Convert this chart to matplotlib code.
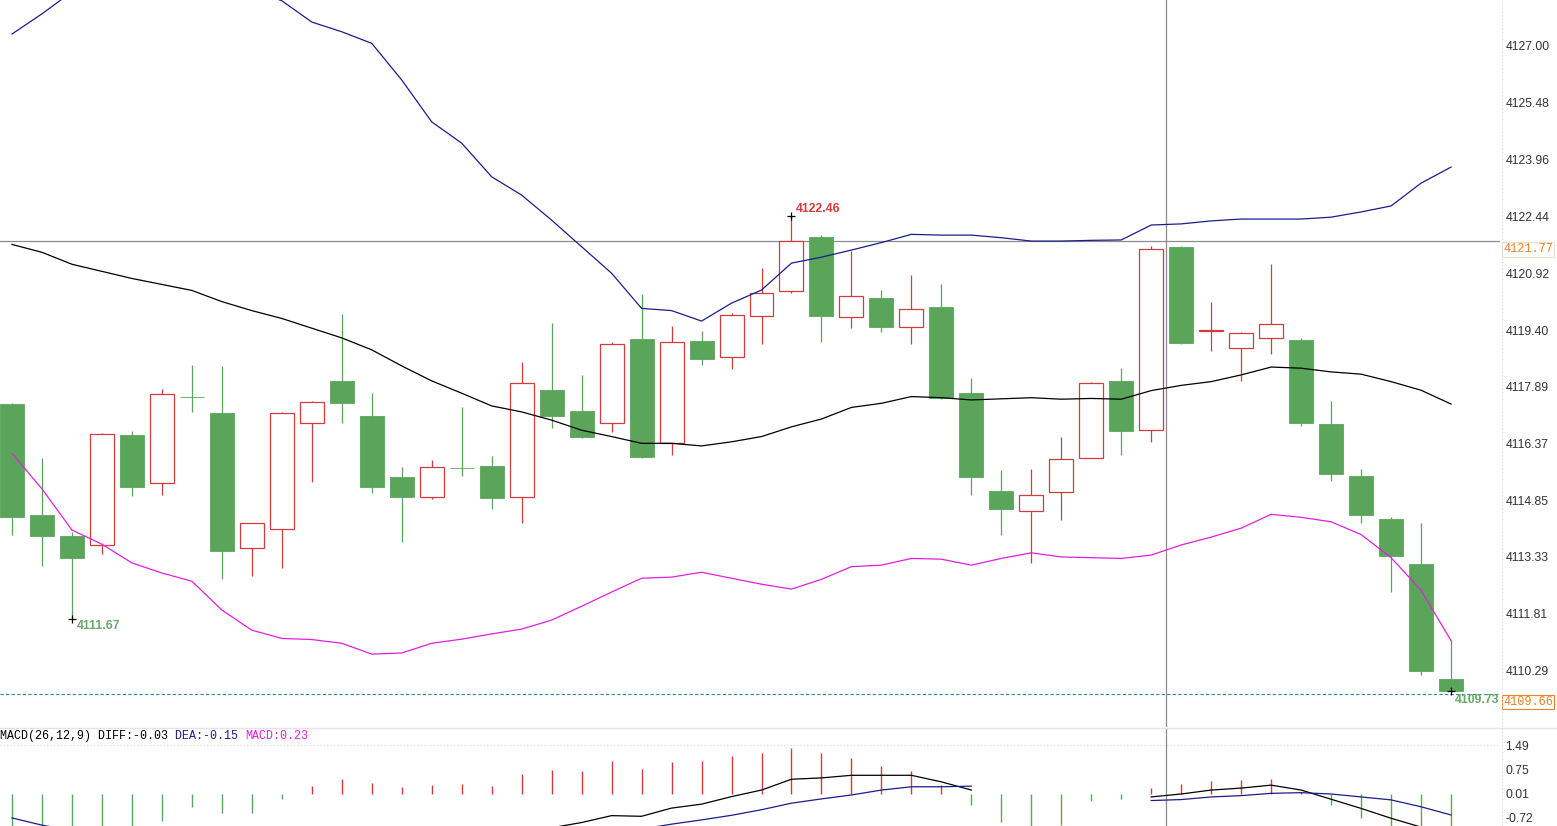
import matplotlib.pyplot as plt
import matplotlib.transforms as mtransforms
from matplotlib.lines import Line2D

nan = float("nan")

# ---- candle data (index = bar number) ----
opens = [4117.42, 4114.45, 4113.89, 4113.64, 4116.59, 4115.30, 4117.62, 4117.18, 4113.56, 4114.09,
         4116.90, 4118.04, 4117.10, 4115.47, 4114.94, 4115.72, 4115.76, 4114.94, 4117.79, 4117.23,
         4116.90, 4119.16, 4116.37, 4119.11, 4118.69, 4119.77, 4120.44, 4121.88, 4119.76, 4120.25,
         4119.47, 4120.01, 4117.71, 4115.09, 4114.56, 4115.06, 4115.99, 4118.04, 4116.72, 4121.63,
         4119.38, 4118.91, 4119.20, 4119.13, 4116.88, 4115.49, 4114.34, 4113.14, 4110.06]
closes = [4114.39, 4113.90, 4113.31, 4116.62, 4115.21, 4117.68, 4117.60, 4113.49, 4114.23, 4117.17,
          4117.47, 4117.45, 4115.21, 4114.94, 4115.73, 4115.70, 4114.91, 4117.97, 4117.11, 4116.53,
          4119.04, 4116.01, 4119.07, 4118.63, 4119.80, 4120.38, 4121.79, 4119.78, 4120.32, 4119.49,
          4119.95, 4117.57, 4115.46, 4114.60, 4115.00, 4115.94, 4117.97, 4116.71, 4121.56, 4119.06,
          4119.40, 4119.31, 4119.55, 4116.90, 4115.55, 4114.45, 4113.36, 4110.28, 4109.73]
highs = [4117.45, 4115.99, 4114.00, 4116.65, 4116.71, 4117.82, 4118.46, 4118.44, 4114.25, 4117.20,
         4117.50, 4119.83, 4117.71, 4115.74, 4115.92, 4117.34, 4116.02, 4118.55, 4119.58, 4118.20,
         4119.09, 4120.36, 4119.51, 4119.38, 4119.85, 4121.06, 4122.46, 4121.94, 4121.52, 4120.47,
         4120.87, 4120.63, 4118.13, 4115.65, 4115.67, 4116.53, 4118.01, 4118.38, 4121.65, 4121.66,
         4120.16, 4119.35, 4121.17, 4119.18, 4117.50, 4115.68, 4114.40, 4114.24, 4111.10]
lows = [4113.93, 4113.10, 4111.67, 4113.40, 4114.97, 4115.00, 4117.21, 4112.73, 4112.83, 4113.04,
        4115.33, 4116.90, 4115.03, 4113.74, 4114.87, 4115.50, 4114.60, 4114.23, 4116.77, 4116.50,
        4116.68, 4115.99, 4116.07, 4118.46, 4118.35, 4119.02, 4120.40, 4119.09, 4119.45, 4119.35,
        4119.04, 4117.55, 4115.00, 4113.91, 4113.18, 4114.33, 4115.97, 4116.07, 4116.41, 4119.04,
        4118.85, 4118.04, 4118.75, 4116.83, 4115.37, 4114.25, 4112.40, 4110.17, 4109.73]

# ---- bands ----
upper = [4127.32, 4127.86, 4128.45, 4128.60, 4128.70, 4128.70, 4128.65, 4128.60, 4128.50, 4128.21,
         4127.64, 4127.38, 4127.07, 4126.09, 4124.97, 4124.40, 4123.50, 4123.01, 4122.34, 4121.63,
         4120.92, 4119.98, 4119.92, 4119.64, 4120.12, 4120.47, 4121.19, 4121.35, 4121.54, 4121.74,
         4121.96, 4121.94, 4121.94, 4121.87, 4121.78, 4121.78, 4121.80, 4121.81, 4122.21, 4122.24,
         4122.32, 4122.37, 4122.37, 4122.37, 4122.42, 4122.56, 4122.72, 4123.33, 4123.76]
middle = [4121.69, 4121.48, 4121.16, 4120.97, 4120.78, 4120.62, 4120.46, 4120.16, 4119.92, 4119.71,
          4119.45, 4119.19, 4118.87, 4118.44, 4118.04, 4117.71, 4117.37, 4117.21, 4116.99, 4116.72,
          4116.55, 4116.37, 4116.37, 4116.30, 4116.41, 4116.55, 4116.81, 4117.02, 4117.33, 4117.44,
          4117.62, 4117.59, 4117.53, 4117.56, 4117.59, 4117.55, 4117.57, 4117.55, 4117.78, 4117.92,
          4118.02, 4118.20, 4118.41, 4118.38, 4118.28, 4118.22, 4118.02, 4117.79, 4117.42]
lower = [4116.10, 4115.15, 4114.05, 4113.67, 4113.17, 4112.90, 4112.68, 4111.91, 4111.37, 4111.15,
         4111.12, 4111.02, 4110.73, 4110.76, 4111.02, 4111.13, 4111.27, 4111.40, 4111.64, 4112.01,
         4112.39, 4112.76, 4112.79, 4112.92, 4112.76, 4112.60, 4112.47, 4112.73, 4113.07, 4113.11,
         4113.29, 4113.27, 4113.11, 4113.29, 4113.44, 4113.33, 4113.31, 4113.29, 4113.38, 4113.65,
         4113.86, 4114.10, 4114.47, 4114.39, 4114.27, 4113.93, 4113.31, 4112.44, 4111.09]

# ---- MACD ----
macd_hist = [-1.30, -1.35, -1.30, -1.20, -1.05, -0.81, -0.38, -0.57, -0.57, -0.14,
             0.26, 0.47, 0.35, 0.23, 0.29, 0.32, 0.26, 0.63, 0.75, 0.72,
             1.02, 0.78, 0.99, 1.02, 1.18, 1.25, 1.41, 1.25, 1.11, 0.86,
             0.71, 0.28, -0.33, -0.85, -1.05, -0.95, -0.20, -0.15, 0.19, 0.32,
             0.41, 0.45, 0.47, 0.08, -0.33, -0.72, -0.97, -1.10, -1.15]
diff = [-1.40, -1.55, -1.70, -1.75, -1.80, -1.80, -1.70, -1.75, -1.75, -1.60,
        -1.50, -1.40, -1.35, -1.35, -1.30, -1.25, -1.20, -1.10, -1.02, -0.86,
        -0.65, -0.67, -0.42, -0.30, -0.07, 0.13, 0.46, 0.50, 0.58, 0.58,
        0.58, 0.38, 0.13, nan, nan, nan, nan, nan, -0.08, 0.01,
        0.13, 0.19, 0.28, 0.13, -0.15, -0.43, -0.73, -1.00, -1.20]
dea = [-0.72, -0.94, -1.10, -1.22, -1.32, -1.40, -1.45, -1.50, -1.52, -1.55,
       -1.54, -1.52, -1.50, -1.48, -1.46, -1.43, -1.40, -1.37, -1.33, -1.22,
       -1.16, -1.06, -0.91, -0.78, -0.64, -0.47, -0.27, -0.14, -0.02, 0.13,
       0.23, 0.23, 0.25, nan, nan, nan, nan, nan, -0.19, -0.16,
       -0.08, -0.04, 0.03, 0.05, 0.01, -0.08, -0.17, -0.38, -0.63]

price_ticks = [4127.00, 4125.48, 4123.96, 4122.44, 4120.92, 4119.40, 4117.89,
               4116.37, 4114.85, 4113.33, 4111.81, 4110.29]
macd_ticks = [1.49, 0.75, 0.01, -0.72]
cross_price = 4121.77
last_price = 4109.66
cross_bar = 38.49
hi_bar, lo_bar, end_bar = 26, 2, 48

GREEN = "#5aa55a"
RED = "#d23c3c"
NAVY = "#1c1c8c"
MAGENTA = "#e020e0"
ORANGE = "#f08020"

W, H = 1557, 826
fig = plt.figure(figsize=(W / 100, H / 100), dpi=100)


def rect(x0, y0, x1, y1):
    return [x0 / W, 1 - y1 / H, (x1 - x0) / W, (y1 - y0) / H]


ax = fig.add_axes(rect(0, 0, 1500, 727))
axm = fig.add_axes(rect(0, 728, 1500, 826))
xlim = (-12 / 29.98, 1488 / 29.98)
for a in (ax, axm):
    a.set_xlim(*xlim)
    a.set_xticks([])
    for s in a.spines.values():
        s.set_visible(False)
    a.yaxis.tick_right()
    a.tick_params(axis="y", length=0, pad=4, labelsize=8.8, labelcolor="#333333")

ax.set_ylim(4108.78, 4128.23)
axm.set_ylim(-0.966, 2.022)

# candles
x = list(range(len(opens)))
up = [c >= o for o, c in zip(opens, closes)]
ax.vlines(x, lows, highs, colors=[RED if u else GREEN for u in up], lw=0.9, zorder=2)
for i in x:
    bottom = min(opens[i], closes[i])
    h = max(abs(closes[i] - opens[i]), 0.02)
    if up[i]:
        ax.bar(i, h, bottom=bottom, width=0.8, facecolor="white", edgecolor=RED, lw=0.9, zorder=3)
    else:
        ax.bar(i, h, bottom=bottom, width=0.8, facecolor=GREEN, edgecolor=GREEN, lw=0.6, zorder=3)

ax.plot(x, upper, color=NAVY, lw=0.9, zorder=4)
ax.plot(x, middle, color="black", lw=0.9, zorder=4)
ax.plot(x, lower, color=MAGENTA, lw=0.9, zorder=4)

ax.axhline(cross_price, color="#8c8c8c", lw=0.9, zorder=1)
ax.axhline(last_price, color="#2a8aa0", lw=0.8, ls=(0, (3, 2)), zorder=1)
ax.axvline(cross_bar, color="#8c8c8c", lw=0.9, zorder=1)
axm.axvline(cross_bar, color="#8c8c8c", lw=0.9, zorder=1)

ax.set_yticks(price_ticks)
ax.set_yticklabels([f"{v:.2f}" for v in price_ticks], family="Liberation Sans")

# right-side price boxes
bt = mtransforms.blended_transform_factory(ax.transAxes, ax.transData)
for val, edge in ((cross_price, "#f3dcc6"), (last_price, ORANGE)):
    ax.annotate(f"{val:.2f}", (1502 / 1500, val), xycoords=bt, xytext=(1, -2),
                textcoords="offset pixels", va="top", ha="left",
                family="Liberation Mono", fontsize=8.6, color=ORANGE, annotation_clip=False,
                bbox=dict(boxstyle="square,pad=0.1", fc="white", ec=edge, lw=0.8))

# high / low markers
ax.plot([hi_bar, lo_bar, end_bar], [highs[hi_bar], lows[lo_bar], lows[end_bar]], "+",
        color="black", ms=6, mew=0.9, zorder=6)
ax.annotate(f"{highs[hi_bar]:.2f}", (hi_bar, highs[hi_bar]), xytext=(4, 1),
            textcoords="offset pixels", va="bottom", ha="left", fontsize=8.8,
            fontweight="bold", color="#d83c3c", family="Liberation Sans")
ax.annotate(f"{lows[lo_bar]:.2f}", (lo_bar, lows[lo_bar]), xytext=(5, -1),
            textcoords="offset pixels", va="top", ha="left", fontsize=8.8,
            fontweight="bold", color="#68a868", family="Liberation Sans")
ax.annotate(f"{lows[end_bar]:.2f}", (end_bar, lows[end_bar]), xytext=(4, -3),
            textcoords="offset pixels", va="top", ha="left", fontsize=8.8,
            fontweight="bold", color="#68a868", family="Liberation Sans", annotation_clip=False)

# MACD panel
axm.vlines(x, 0, macd_hist, colors=[RED if v >= 0 else GREEN for v in macd_hist], lw=1.0, zorder=2)
axm.plot(x, diff, color="black", lw=0.9, zorder=3)
axm.plot(x, dea, color=NAVY, lw=0.9, zorder=3)
axm.axhline(macd_ticks[0], color="#d8d8d8", lw=0.8, ls=(0, (1, 2)), zorder=0)
axm.set_yticks(macd_ticks)
axm.set_yticklabels([f"{v:.2f}" for v in macd_ticks], family="Liberation Sans")

# header text
cw = 0.6 * 8.4 * 100 / 72
parts = [("MACD(26,12,9) DIFF:-0.03 ", "black"), ("DEA:-0.15 ", NAVY), ("MACD:0.23", MAGENTA)]
pos = 0
for txt, col in parts:
    fig.text(pos * cw / W, 1 - 736 / H, txt, family="Liberation Mono", fontsize=8.4,
             color=col, va="center", ha="left")
    pos += len(txt)

# frame lines
fig.add_artist(Line2D([0, 1], [1 - 728 / H, 1 - 728 / H], color="#e4e4e4", lw=0.9))
fig.add_artist(Line2D([1502 / W, 1502 / W], [0, 1], color="#d4d4d4", lw=0.8, ls=(0, (1, 2))))

fig.savefig("out.png", dpi=100)
